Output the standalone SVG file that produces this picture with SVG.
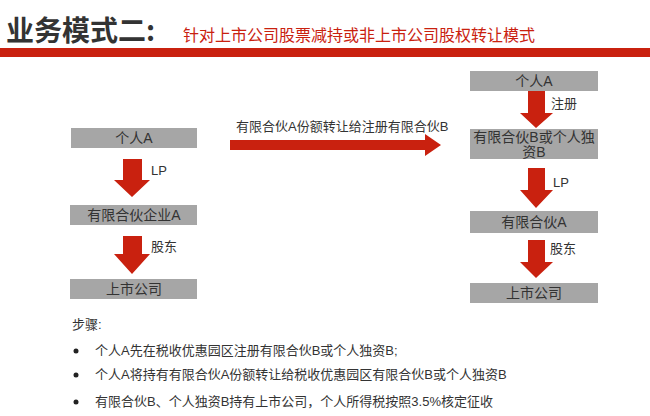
<svg xmlns="http://www.w3.org/2000/svg" width="650" height="416" viewBox="0 0 650 416">
<style>
.box{fill:#a6a6a6}
.ar{fill:#c9210f}
.t{font-family:"Liberation Sans","Noto Sans CJK SC",sans-serif;font-size:14px;fill:#333;text-anchor:middle}
.l{font-family:"Liberation Sans","Noto Sans CJK SC",sans-serif;font-size:13px;fill:#333}
</style>
<rect width="650" height="416" fill="#fff"/>
<text x="6" y="41" font-family="Noto Sans CJK SC,sans-serif" font-size="28" font-weight="bold" fill="#333">业务模式二:</text>
<text x="183" y="41" font-family="Noto Sans CJK SC,sans-serif" font-size="16" fill="#c9210f">针对上市公司股票减持或非上市公司股权转让模式</text>
<rect x="0" y="48" width="650" height="9" fill="#c9210f"/>
<g id="connectors">
<polygon class="ar" points="123,159 142,159 142,180 150,180 132,197 114,180 123,180"/>
<polygon class="ar" points="123,236 142,236 142,254 150,254 132,274 114,254 123,254"/>
<polygon class="ar" points="230,140 425,140 425,134 441,145 425,156 425,150 230,150"/>
<polygon class="ar" points="528,91 545,91 545,113 553,113 536,128 520,113 528,113"/>
<polygon class="ar" points="528,168 545,168 545,190 553,190 536,208 520,190 528,190"/>
<polygon class="ar" points="528,240 545,240 545,262 553,262 536,278 520,262 528,262"/>
<text class="l" x="151" y="175">LP</text>
<text class="l" x="151" y="251">股东</text>
<text class="l" x="236" y="131">有限合伙A份额转让给注册有限合伙B</text>
<text class="l" x="551" y="108">注册</text>
<text class="l" x="553" y="187">LP</text>
<text class="l" x="550" y="253">股东</text>
</g>
<g id="l1"><rect class="box" x="71" y="128" width="126" height="20"/><text class="t" x="134" y="143">个人A</text></g>
<g id="l2"><rect class="box" x="70" y="205" width="127" height="20"/><text class="t" x="134" y="220">有限合伙企业A</text></g>
<g id="l3"><rect class="box" x="70" y="279" width="127" height="20"/><text class="t" x="134" y="294">上市公司</text></g>
<g id="r1"><rect class="box" x="470" y="71" width="128" height="20"/><text class="t" x="534" y="86">个人A</text></g>
<g id="r2"><rect class="box" x="470" y="129" width="128" height="30"/><text class="t" x="534" y="142">有限合伙B或个人独</text><text class="t" x="534" y="157">资B</text></g>
<g id="r3"><rect class="box" x="470" y="211" width="128" height="22"/><text class="t" x="534" y="227">有限合伙A</text></g>
<g id="r4"><rect class="box" x="470" y="283" width="128" height="20"/><text class="t" x="534" y="298">上市公司</text></g>
<g>
<text class="l" x="72" y="329">步骤:</text>
<circle cx="76" cy="351" r="2.5" fill="#222"/><text class="l" x="95" y="355">个人A先在税收优惠园区注册有限合伙B或个人独资B;</text>
<circle cx="76" cy="375" r="2.5" fill="#222"/><text class="l" x="95" y="379">个人A将持有有限合伙A份额转让给税收优惠园区有限合伙B或个人独资B</text>
<circle cx="76" cy="402" r="2.5" fill="#222"/><text class="l" x="95" y="406">有限合伙B、个人独资B持有上市公司，个人所得税按照3.5%核定征收</text>
</g>
</svg>
